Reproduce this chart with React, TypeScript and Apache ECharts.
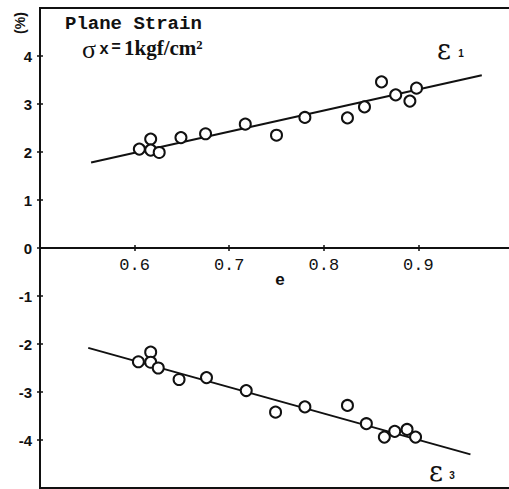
import React, { useEffect, useRef } from 'react';
import * as echarts from 'echarts';

// ε1 (upper) measured points
const e1X = [0.605, 0.617, 0.617, 0.626, 0.649, 0.675, 0.717, 0.750, 0.780, 0.825, 0.843, 0.861, 0.876, 0.891, 0.898];
const e1Y = [2.06, 2.27, 2.04, 1.99, 2.30, 2.38, 2.58, 2.35, 2.72, 2.71, 2.94, 3.46, 3.19, 3.06, 3.33];
// ε3 (lower) measured points
const e3X = [0.604, 0.617, 0.617, 0.625, 0.647, 0.676, 0.718, 0.749, 0.780, 0.825, 0.845, 0.864, 0.875, 0.888, 0.897];
const e3Y = [-2.37, -2.17, -2.38, -2.50, -2.74, -2.70, -2.97, -3.42, -3.31, -3.28, -3.66, -3.94, -3.82, -3.78, -3.94];
// fitted lines
const e1FitX = [0.554, 0.967];
const e1FitY = [1.78, 3.6];
const e3FitX = [0.551, 0.955];
const e3FitY = [-2.08, -4.3];
// ticks
const xTicks = [0.6, 0.7, 0.8, 0.9];
const yTicks = [4, 3, 2, 1, 0, -1, -2, -3, -4];

const INK = '#111';

const txt = (x: number, y: number, text: string, font: string, align = 'center', extra: any = {}) => ({
  type: 'text',
  x,
  y,
  ...extra,
  style: {
    text,
    fill: INK,
    font,
    align,
    verticalAlign: 'middle',
    textAlign: align,
    textVerticalAlign: 'middle',
  },
});

export default function App() {
  const ref = useRef<HTMLDivElement>(null);
  useEffect(() => {
    if (!ref.current) return;
    const chart = echarts.init(ref.current, null, { renderer: 'svg' });
    const pairs = (xs: number[], ys: number[]) => xs.map((x, i) => [x, ys[i]]);
    const gridBase = {
      left: 40,
      width: 473,
      height: 240,
      containLabel: false,
      outerBoundsMode: 'none',
      show: true,
      borderColor: INK,
      borderWidth: 2,
      backgroundColor: 'transparent',
    };
    const yAxisFor = (gridIndex: number, min: number, max: number, ticks: number[], inside: boolean) => ({
      type: 'value',
      gridIndex,
      position: 'left',
      min,
      max,
      interval: 1,
      axisLine: { show: true, onZero: false, lineStyle: { color: INK, width: 2 } },
      axisTick: { show: true, inside, length: 3, customValues: ticks, lineStyle: { color: INK, width: 1.5 } },
      axisLabel: inside
        ? { show: false }
        : {
            show: true,
            customValues: ticks,
            margin: 8,
            color: INK,
            fontFamily: 'Liberation Sans',
            fontWeight: 'bold',
            fontSize: 15,
            formatter: (v: number) => String(v),
          },
      splitLine: { show: false },
    });
    const xAxisFor = (gridIndex: number, position: string, showTicks: boolean, showLabels: boolean) => ({
      type: 'value',
      gridIndex,
      position,
      min: 0.5,
      max: 1.0,
      interval: 0.1,
      axisLine: { show: true, onZero: false, lineStyle: { color: INK, width: 2 } },
      axisTick: { show: showTicks, length: 3, customValues: xTicks, lineStyle: { color: INK, width: 1.5 } },
      axisLabel: showLabels
        ? {
            show: true,
            customValues: xTicks,
            margin: 9,
            color: INK,
            fontFamily: 'Liberation Mono',
            fontSize: 17,
            formatter: (v: number) => v.toFixed(1),
          }
        : { show: false },
      splitLine: { show: false },
    });
    const lineSeries = (xs: number[], ys: number[], idx: number) => ({
      type: 'line',
      xAxisIndex: idx,
      yAxisIndex: idx,
      data: pairs(xs, ys),
      symbol: 'none',
      lineStyle: { color: INK, width: 2 },
      z: 2,
    });
    const scatterSeries = (xs: number[], ys: number[], idx: number) => ({
      type: 'scatter',
      xAxisIndex: idx,
      yAxisIndex: idx,
      data: pairs(xs, ys),
      symbol: 'circle',
      symbolSize: 11,
      itemStyle: { color: '#fff', borderColor: INK, borderWidth: 2, opacity: 1 },
      z: 3,
    });
    const upperTicks = yTicks.filter((v) => v >= 0);
    const lowerTicks = yTicks.filter((v) => v < 0);
    chart.setOption({
      animation: false,
      backgroundColor: '#fff',
      grid: [
        { ...gridBase, top: 8 },
        { ...gridBase, top: 248 },
      ],
      xAxis: [
        xAxisFor(0, 'bottom', true, true),
        xAxisFor(1, 'bottom', false, false),
        xAxisFor(1, 'top', true, false),
      ],
      yAxis: [
        yAxisFor(0, 0, 5, upperTicks, false),
        yAxisFor(1, -5, 0, lowerTicks, false),
        yAxisFor(0, 0, 5, upperTicks, true),
        yAxisFor(1, -5, 0, lowerTicks, true),
      ],
      series: [
        lineSeries(e1FitX, e1FitY, 0),
        lineSeries(e3FitX, e3FitY, 1),
        scatterSeries(e1X, e1Y, 0),
        scatterSeries(e3X, e3Y, 1),
      ],
      graphic: [
        txt(20, 23, '(%)', 'bold 14px "Liberation Sans"', 'center', { rotation: Math.PI / 2 }),
        txt(65, 24, 'Plane Strain', 'bold 19px "Liberation Mono"', 'left'),
        txt(89, 49, 'σ', '26px "Liberation Serif"'),
        txt(104, 50, 'x', 'bold 16px "Liberation Mono"'),
        txt(116, 48, '=', 'bold 16px "Liberation Mono"'),
        txt(124, 48, '1kgf/cm²', 'bold 21px "Liberation Serif"', 'left'),
        txt(444, 49, 'ε', '27px "DejaVu Serif"'),
        txt(461, 53, '1', 'bold 10px "Liberation Sans"'),
        txt(436, 471, 'ε', '27px "DejaVu Serif"'),
        txt(452, 475, '3', 'bold 10px "Liberation Sans"'),
        txt(280, 279, 'e', 'bold 17px "Liberation Sans"'),
      ],
    });
    return () => chart.dispose();
  }, []);
  return (
    <div
      ref={ref}
      style={{ position: 'absolute', left: 0, top: 0, width: 509, height: 489 }}
    />
  );
}
